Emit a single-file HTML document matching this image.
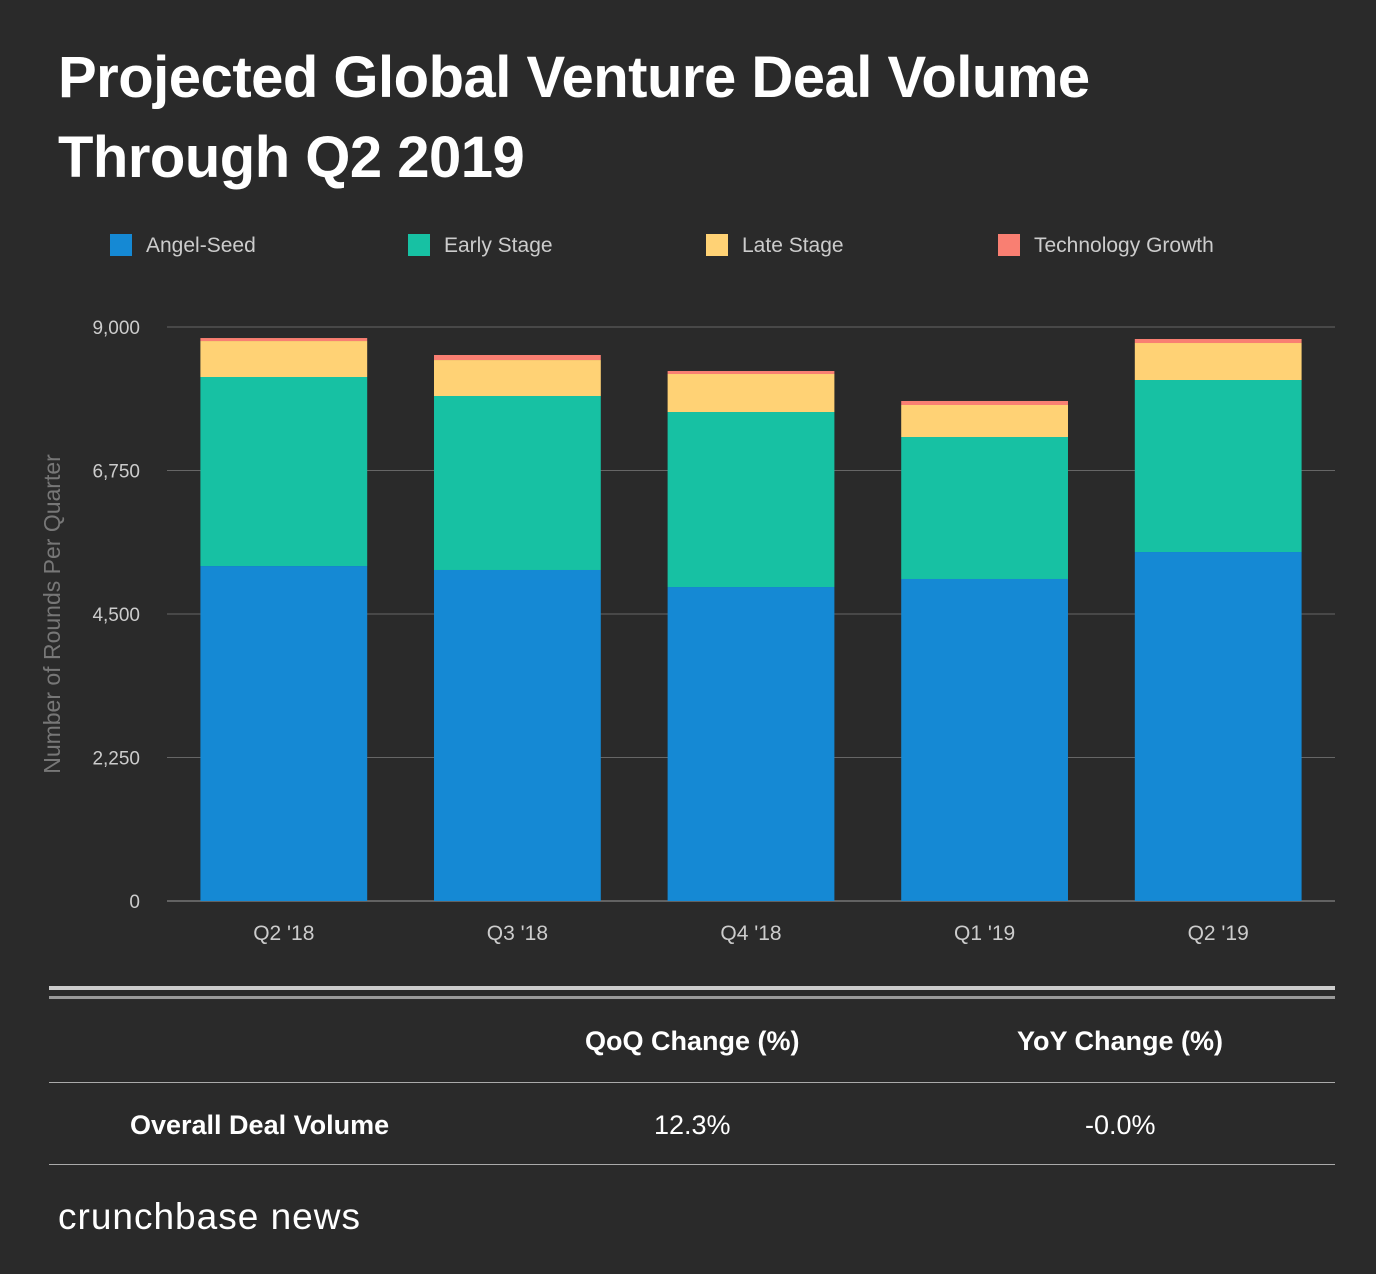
<!DOCTYPE html>
<html><head><meta charset="utf-8"><style>
body{margin:0;width:1376px;height:1274px;background:#2a2a2a;font-family:"Liberation Sans",sans-serif;overflow:hidden;position:relative;color:#fff}
.abs{position:absolute}
h1{position:absolute;left:58px;top:38px;margin:0;font-size:58px;line-height:80px;font-weight:bold;color:#fff;letter-spacing:-0.5px}
.leg{position:absolute;top:234px;font-size:21px;color:#ccc}
.leg span{display:inline-block;width:22px;height:22px;vertical-align:-4px;margin-right:14px}
</style></head><body>
<h1>Projected Global Venture Deal Volume<br>Through Q2 2019</h1>
<div class="leg" style="left:110px"><span style="background:#1589d4"></span>Angel-Seed</div>
<div class="leg" style="left:408px"><span style="background:#17c1a3"></span>Early Stage</div>
<div class="leg" style="left:706px"><span style="background:#ffd275"></span>Late Stage</div>
<div class="leg" style="left:998px"><span style="background:#f97f72"></span>Technology Growth</div>
<svg class="abs" style="left:0;top:0" width="1376" height="980" id="chart"></svg>
<div class="abs" style="left:49px;top:986px;width:1286px;height:4px;background:#ccc"></div>
<div class="abs" style="left:49px;top:996px;width:1286px;height:3px;background:#999"></div>
<div class="abs" style="left:585px;top:1026px;font-size:27px;font-weight:bold">QoQ Change (%)</div>
<div class="abs" style="left:1017px;top:1026px;font-size:27px;font-weight:bold">YoY Change (%)</div>
<div class="abs" style="left:49px;top:1082px;width:1286px;height:1px;background:#aaa"></div>
<div class="abs" style="left:130px;top:1110px;font-size:27px;font-weight:bold">Overall Deal Volume</div>
<div class="abs" style="left:654px;top:1110px;font-size:27px">12.3%</div>
<div class="abs" style="left:1085px;top:1110px;font-size:27px">-0.0%</div>
<div class="abs" style="left:49px;top:1164px;width:1286px;height:1px;background:#aaa"></div>
<div class="abs" style="left:58px;top:1196px;font-size:37px;letter-spacing:1px">crunchbase news</div>
<script>
const categories=["Q2 '18","Q3 '18","Q4 '18","Q1 '19","Q2 '19"];
const angelSeed=[5252,5190,4923,5049,5472];
const earlyStage=[2964,2728,2744,2226,2697];
const lateStage=[564,564,596,502,580];
const techGrowth=[47,79,47,63,63];
const yTicks=[0,2250,4500,6750,9000];
const series=[angelSeed,earlyStage,lateStage,techGrowth];
const colors=["#1589d4","#17c1a3","#ffd275","#f97f72"];
const NS="http://www.w3.org/2000/svg",svg=document.getElementById('chart');
const y0=901,y1=327,x0=167,x1=1335;
const y=v=>y0-(v/9000)*(y0-y1);
const bw=(x1-x0)/categories.length;
const bx=i=>x0+bw*i+bw*0.143;
function mk(t,a){const e=document.createElementNS(NS,t);for(const k in a)e.setAttribute(k,a[k]);svg.appendChild(e);return e;}
yTicks.forEach(t=>{
 const l=mk('line',{x1:x0,x2:x1,y1:y(t),y2:y(t),stroke:t===0?'#999':'#666','stroke-width':1});
 
 
 const tx=mk('text',{x:140,y:y(t)+7,'text-anchor':'end',fill:'#ccc','font-size':19,'font-family':'Liberation Sans'});
 tx.textContent=t.toLocaleString('en-US');
 
 
});
categories.forEach((c,i)=>{
 let acc=0;
 series.forEach((s,j)=>{
  const r=mk('rect',{x:bx(i),width:bw*0.714,y:y(acc+s[i]),height:y(acc)-y(acc+s[i]),fill:colors[j]});
  
  
  acc+=s[i];
 });
 const tx=mk('text',{x:bx(i)+bw*0.357,y:940,'text-anchor':'middle',fill:'#ccc','font-size':21,'font-family':'Liberation Sans'});
 tx.textContent=c;
 
 
});
const yt=mk('text',{x:0,y:0,transform:'translate(60,614) rotate(-90)','text-anchor':'middle',fill:'#777','font-size':23,'font-family':'Liberation Sans'});
yt.textContent='Number of Rounds Per Quarter';


</script>
</body></html>
